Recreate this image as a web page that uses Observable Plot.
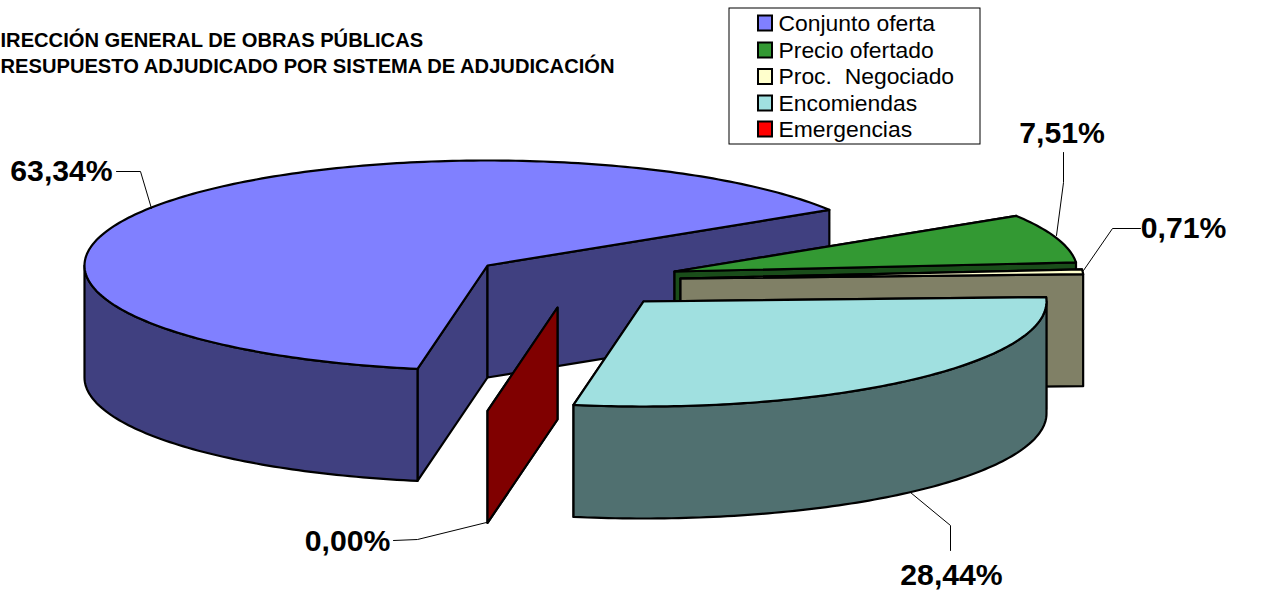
<!DOCTYPE html>
<html lang="es">
<head>
<meta charset="utf-8">
<title>Presupuesto adjudicado por sistema de adjudicación</title>
<script src="https://cdn.jsdelivr.net/npm/d3@7"></script>
<script src="https://cdn.jsdelivr.net/npm/@observablehq/plot@0.6"></script>
<style>
  html, body { margin: 0; padding: 0; background: #fff; overflow: hidden; }
  svg { display: block; }
</style>
</head>
<body>
<div id="chart"></div>
<script>
// Data
const categories = ["Conjunto oferta", "Precio ofertado", "Proc.  Negociado", "Encomiendas", "Emergencias"];
const shares = [63.34, 7.51, 0.71, 28.44, 0.00];
const shareLabels = ["63,34%", "7,51%", "0,71%", "28,44%", "0,00%"];
const titleLines = ["IRECCIÓN GENERAL DE OBRAS PÚBLICAS", "RESUPUESTO ADJUDICADO POR SISTEMA DE ADJUDICACIÓN"];

// Styles
const topColors = ["#8080FF", "#339933", "#FFFFCC", "#A0E0E0", "#FF0000"];
const sideColors = ["#404080", "#1A4D1A", "#808066", "#507070", "#800000"];
const font = "Liberation Sans, Arial, sans-serif";

// Projection of the exploded pie (page units)
const rx = 403, ry = 105, depth = 112, startAngle = 100;
const centersX = [487, 674, 680, 643, 557];
const centersY = [265, 271, 278, 301, 307];
const paintOrder = [0, 1, 2, 4, 3];

// Leader lines and label anchors
const leaders = [
  [[116, 171], [140, 171], [151, 208]],
  [[1063, 152], [1063, 182], [1056, 235]],
  [[1140, 228], [1112, 228], [1083, 270]],
  [[950, 550], [950, 525], [910, 492]],
  [[393, 540], [417, 539], [486, 522]]
];
const labelX = [61, 1061.5, 1183, 951, 347];
const labelY = [171, 132.5, 228, 575, 541];

// Legend and title placement
const legendBox = {x1: 729, x2: 980, y1: 8, y2: 144};
const legendRowY = [23, 50, 76.5, 103, 129];
const titleY = [40.5, 66];

// Slice angles from the shares
let running = startAngle;
const slices = shares.map((s, i) => {
  const a0 = running;
  running += s * 3.6;
  return {i, a0, a1: running};
});

const rad = d => d * Math.PI / 180;
const pt = (i, a, dz = 0) => ({
  x: centersX[i] + rx * Math.cos(rad(a)),
  y: centersY[i] + ry * Math.sin(rad(a)) + dz
});
const apex = (i, dz = 0) => ({x: centersX[i], y: centersY[i] + dz});
const sweep = (a, b) => {
  const out = [];
  for (let t = a; t < b; t += 1) out.push(t);
  out.push(b);
  return out;
};

const poly = (rows, fill, sw = 2.2) => Plot.line(rows, {
  x: "x", y: "y", fill, stroke: "#000", strokeWidth: sw,
  curve: "linear-closed", strokeLinejoin: "round"
});

const pieMarks = [];
for (const k of paintOrder) {
  const {i, a0, a1} = slices[k];
  const side = sideColors[i];
  // cut faces
  for (const a of [a0, a1]) {
    pieMarks.push(poly([apex(i), pt(i, a), pt(i, a, depth), apex(i, depth)], side));
  }
  // rim: only the front half of the ellipse faces the viewer
  const ranges = [[0, 180], [360, 540]];
  for (const [lo, hi] of ranges) {
    const from = Math.max(a0, lo), to = Math.min(a1, hi);
    if (to > from) {
      const arc = sweep(from, to);
      pieMarks.push(poly([
        ...arc.map(a => pt(i, a)),
        ...arc.slice().reverse().map(a => pt(i, a, depth))
      ], side));
    }
  }
  // top
  if (a1 > a0) {
    pieMarks.push(poly([apex(i), ...sweep(a0, a1).map(a => pt(i, a))], topColors[i]));
  }
}

const leaderRows = leaders.flatMap((l, id) => l.map(([x, y]) => ({id, x, y})));
const legendRows = categories.map((name, i) => ({name, y: legendRowY[i], fill: topColors[i]}));

const chart = Plot.plot({
  width: 1274,
  height: 591,
  margin: 0,
  style: {background: "#fff", fontFamily: font},
  x: {domain: [0, 1274], range: [0, 1274], axis: null},
  y: {domain: [0, 591], range: [0, 591], axis: null},
  marks: [
    ...pieMarks,
    Plot.line(leaderRows, {x: "x", y: "y", z: "id", stroke: "#000", strokeWidth: 1}),
    Plot.text(shareLabels, {
      x: (d, i) => labelX[i], y: (d, i) => labelY[i], text: d => d,
      fontFamily: font, fontWeight: "bold", fontSize: 30.2, fill: "#000"
    }),
    Plot.text(titleLines, {
      x: () => 0, y: (d, i) => titleY[i], text: d => d, textAnchor: "start",
      fontFamily: font, fontWeight: "bold", fontSize: 20.15, fill: "#000"
    }),
    Plot.rect([legendBox], {x1: "x1", x2: "x2", y1: "y1", y2: "y2", fill: "#fff", stroke: "#000", strokeWidth: 1}),
    Plot.rect(legendRows, {
      x1: () => 758, x2: () => 772, y1: d => d.y - 7.5, y2: d => d.y + 7.5,
      fill: "fill", stroke: "#000", strokeWidth: 2
    }),
    Plot.text(legendRows, {
      x: () => 778, y: "y", text: "name", textAnchor: "start",
      fontFamily: font, fontSize: 22.9, fill: "#000"
    })
  ]
});
document.getElementById("chart").append(chart);
</script>
</body>
</html>
